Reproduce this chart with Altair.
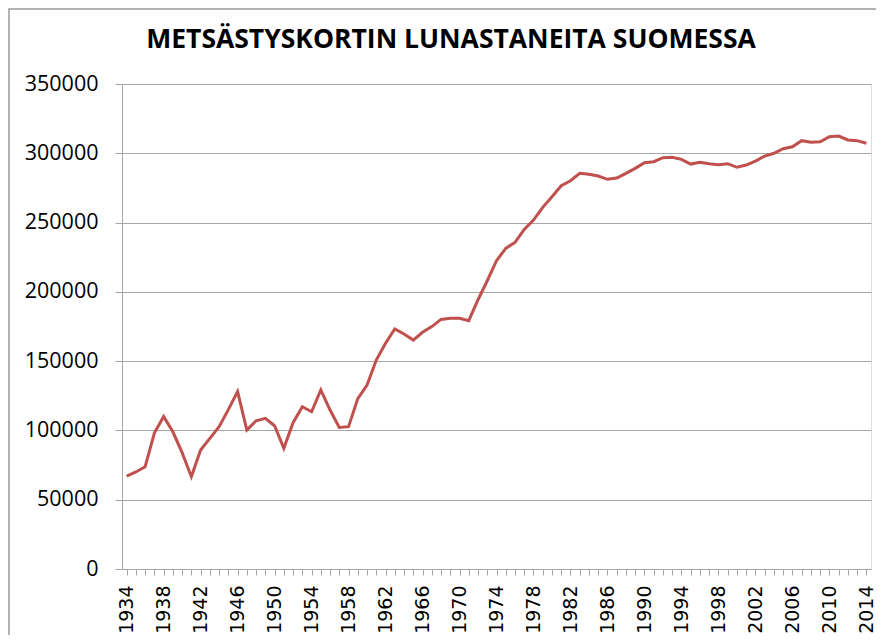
import altair as alt
import pandas as pd

years = list(range(1934, 2015))
hunters = [
    67100, 70000, 73800, 98100, 110000, 99000, 84000, 66600, 85900, 94300,
    102700, 115000, 128000, 100300, 107000, 108700, 103400, 87100, 105600, 117100,
    113500, 129200, 114700, 102200, 102700, 123000, 132800, 150800, 162900, 173200,
    169600, 165200, 170800, 174900, 180100, 180900, 180900, 179200, 194300, 208000,
    222500, 231400, 235700, 245100, 251800, 261000, 268700, 276600, 280200, 285500,
    284800, 283600, 281200, 282100, 285500, 289100, 293200, 293900, 296800, 297100,
    295600, 292200, 293500, 292500, 291800, 292500, 289900, 291500, 294400, 298000,
    300000, 303300, 304700, 309100, 307900, 308300, 312000, 312400, 309600, 309100,
    307200,
]
title_text = "METSÄSTYSKORTIN LUNASTANEITA SUOMESSA"
y_ticks = [0, 50000, 100000, 150000, 200000, 250000, 300000, 350000]

df = pd.DataFrame({"year": years, "value": hunters})

W, H = 749, 485
PL, PT, PR, PB = 114, 76, 5, 66

line = alt.Chart(df).mark_line(color="#C0504D", strokeWidth=3).encode(
    x=alt.X(
        "year:O",
        scale=alt.Scale(paddingInner=0, paddingOuter=0),
        axis=alt.Axis(
            title=None,
            labelAngle=270,
            labelAlign="right",
            labelBaseline="middle",
            labelFont="DejaVu Sans",
            labelFontSize=19,
            labelColor="#000000",
            labelPadding=10,
            labelExpr="(datum.value - 1934) % 4 == 0 ? datum.label : ''",
            bandPosition=0,
            tickSize=6,
            tickColor="#A6A6A6",
            domainColor="#A6A6A6",
            grid=False,
            labelOverlap=False,
            labelBound=False,
        ),
    ),
    y=alt.Y(
        "value:Q",
        scale=alt.Scale(domain=[0, 350000], nice=False),
        axis=alt.Axis(
            title=None,
            values=y_ticks,
            format="d",
            labelFont="Open Sans",
            labelFontSize=21.5,
            labelColor="#000000",
            labelPadding=17,
            tickSize=7,
            tickColor="#A6A6A6",
            domainColor="#A6A6A6",
            gridColor="#A6A6A6",
            gridWidth=1,
        ),
    ),
)

border = alt.Chart(pd.DataFrame({"a": [0]})).mark_rect(
    fill=None, stroke="#9A9A9A", strokeWidth=1.5, clip=False
).encode(
    x=alt.value(-PL + 1),
    x2=alt.value(W + 40),
    y=alt.value(-PT + 1),
    y2=alt.value(H + 200),
)

title = alt.Chart(pd.DataFrame({"t": [title_text]})).mark_text(
    font="Open Sans",
    fontSize=26.5,
    fontWeight="bold",
    color="#000000",
    align="center",
    baseline="alphabetic",
).encode(
    text="t:N",
    x=alt.value(329),
    y=alt.value(-36),
)

chart = alt.layer(border, line, title).properties(
    width=W,
    height=H,
    autosize=alt.AutoSizeParams(type="none"),
    padding={"left": PL, "top": PT, "right": PR, "bottom": PB},
).configure_view(stroke=None).configure(background="#FFFFFF")

chart.save("out.html", embed_options={"renderer": "svg", "actions": False})
